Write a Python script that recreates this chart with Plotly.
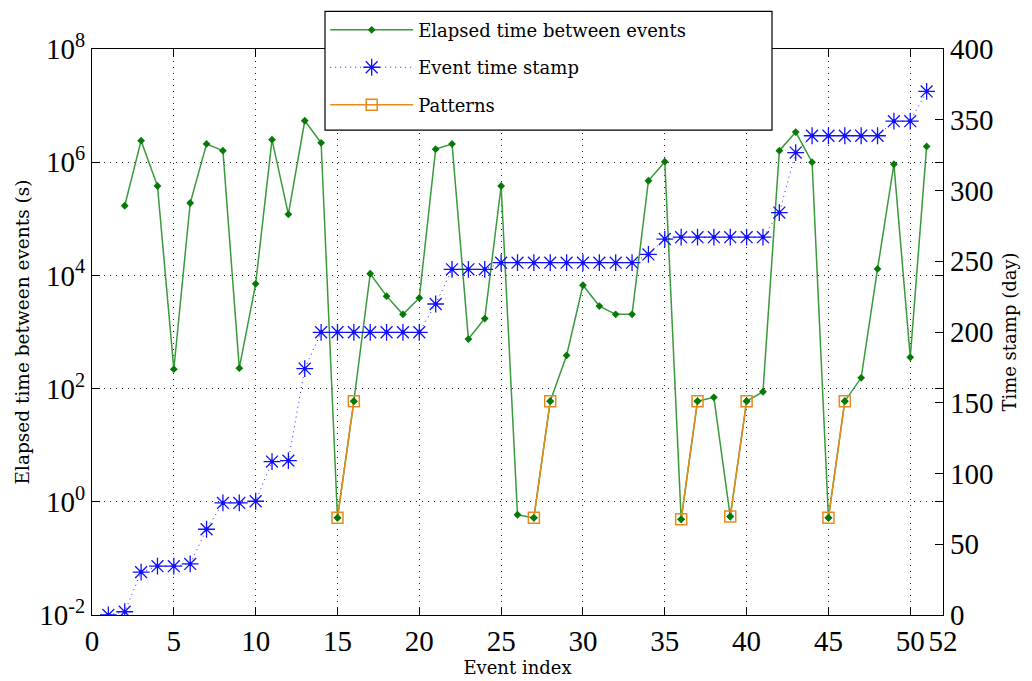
import plotly.graph_objects as go

# ---- data ----
event_index = list(range(1, 52))
elapsed_idx = list(range(2, 52))
elapsed_s = [1.7e5, 2.4e6, 3.8e5, 220, 1.9e5, 2.1e6, 1.6e6, 230, 7100,
             2.5e6, 1.2e5, 5.4e6, 2.2e6, 0.52, 60, 1.07e4, 4300, 2050, 4000,
             1.7e6, 2.1e6, 750, 1730, 3.8e5, 0.59, 0.52, 60, 385, 6700,
             2870, 2050, 2050, 4.7e5, 1.02e6, 0.49, 60, 70, 0.55, 60,
             88, 1.6e6, 3.4e6, 1.0e6, 0.52, 60, 155, 1.3e4, 9.2e5, 357, 1.9e6]
time_stamp_day = [0, 2.3, 30.3, 34.5, 34.5, 36.1, 60.6, 79.2, 79.2, 80.4,
                  108.4, 109.1, 174.1, 199.8, 199.8, 199.8, 199.8, 199.8, 199.8, 199.8,
                  219.8, 244.3, 244.3, 244.3, 249, 249, 249, 249, 249, 249,
                  249, 249, 249, 254.8, 265.7, 267, 267, 267, 267, 267,
                  267, 284.4, 326.8, 338.7, 338.7, 338.7, 338.7, 338.7, 349, 349,
                  370]
pattern_pairs = [(15, 16), (27, 28), (36, 37), (39, 40), (45, 46)]

x_ticks = [0, 5, 10, 15, 20, 25, 30, 35, 40, 45, 50, 52]
y_log_ticks = [1e-2, 1e0, 1e2, 1e4, 1e6, 1e8]
y_log_labels = ["10<sup>-2</sup>", "10<sup>0</sup>", "10<sup>2</sup>",
                "10<sup>4</sup>", "10<sup>6</sup>", "10<sup>8</sup>"]
y2_ticks = [0, 50, 100, 150, 200, 250, 300, 350, 400]

# build pattern series with gaps
pat_x, pat_y = [], []
lookup = dict(zip(elapsed_idx, elapsed_s))
for a, b in pattern_pairs:
    pat_x += [a, b, None]
    pat_y += [lookup[a], lookup[b], None]

FONT = "DejaVu Serif"
TICKFONT = "Liberation Serif"

fig = go.Figure()
fig.add_trace(go.Scatter(
    x=elapsed_idx, y=elapsed_s, mode="lines+markers",
    name="Elapsed time between events", legendgroup="g1",
    line=dict(color="#3a9a3a", width=1.5),
    marker=dict(symbol="diamond", size=6, color="#067a06"),
    yaxis="y"))
fig.add_trace(go.Scatter(
    x=event_index, y=time_stamp_day, mode="lines+markers",
    name="Event time stamp", legendgroup="g2",
    line=dict(color="#2020ff", width=1, dash="1px,4px"),
    marker=dict(symbol="asterisk-open", size=14, color="#1010ff",
                line=dict(color="#1010ff", width=1.3)),
    yaxis="y2"))
fig.add_trace(go.Scatter(
    x=pat_x, y=pat_y, mode="lines+markers",
    name="Patterns", legendgroup="g3", connectgaps=False,
    line=dict(color="#e8891a", width=1.5),
    marker=dict(symbol="square-open", size=11, color="#e8891a",
                line=dict(color="#e8891a", width=1.5)),
    yaxis="y"))
# green markers on top of pattern squares
fig.add_trace(go.Scatter(
    x=[p for p in pat_x if p is not None],
    y=[v for v in pat_y if v is not None], mode="markers",
    showlegend=False, hoverinfo="skip",
    marker=dict(symbol="diamond", size=6, color="#067a06"),
    yaxis="y"))
# blue centre dots of the stars
fig.add_trace(go.Scatter(
    x=event_index, y=time_stamp_day, mode="markers",
    showlegend=False, hoverinfo="skip",
    marker=dict(symbol="circle", size=4, color="#1010ff"),
    yaxis="y2"))

axis_common = dict(showline=True, linecolor="black", linewidth=1.2,
                   ticks="inside", ticklen=8, tickcolor="black",
                   tickfont=dict(family=TICKFONT, size=29, color="black"))
grid_common = dict(showgrid=True, gridcolor="#222222", griddash="1px,5px", gridwidth=1)

fig.update_layout(
    width=1032, height=681,
    margin=dict(l=92, r=89, t=43, b=66),
    paper_bgcolor="white", plot_bgcolor="white",
    font=dict(family=FONT, color="black"),
    xaxis=dict(range=[0, 52], tickvals=x_ticks, mirror="ticks", zeroline=False,
               title=dict(text="Event index", font=dict(family=FONT, size=18), standoff=0),
               **grid_common, **axis_common),
    yaxis=dict(type="log", range=[-2, 8], tickvals=y_log_ticks, ticktext=y_log_labels,
               mirror="ticks", zeroline=False,
               title=dict(text="Elapsed time between events (s)",
                          font=dict(family=FONT, size=18.5), standoff=4),
               **grid_common, **axis_common),
    yaxis2=dict(overlaying="y", side="right", range=[0, 400], tickvals=y2_ticks,
                showgrid=False, zeroline=False,
                title=dict(text="Time stamp (day)", font=dict(family=FONT, size=18),
                           standoff=10),
                **axis_common),
    legend=dict(x=0.274, y=1.066, xanchor="left", yanchor="top",
                bgcolor="rgba(0,0,0,0)", borderwidth=0,
                font=dict(family=FONT, size=18, color="black"),
                itemwidth=83, tracegroupgap=11, traceorder="grouped"),
    shapes=[dict(type="rect", xref="paper", yref="paper",
                 x0=(325 - 92) / 851, x1=(772 - 92) / 851,
                 y0=(615 - 125) / 572, y1=(615 - 5) / 572,
                 line=dict(color="black", width=1.2), fillcolor="white",
                 layer="above")],
)

fig.write_html("out.html")
